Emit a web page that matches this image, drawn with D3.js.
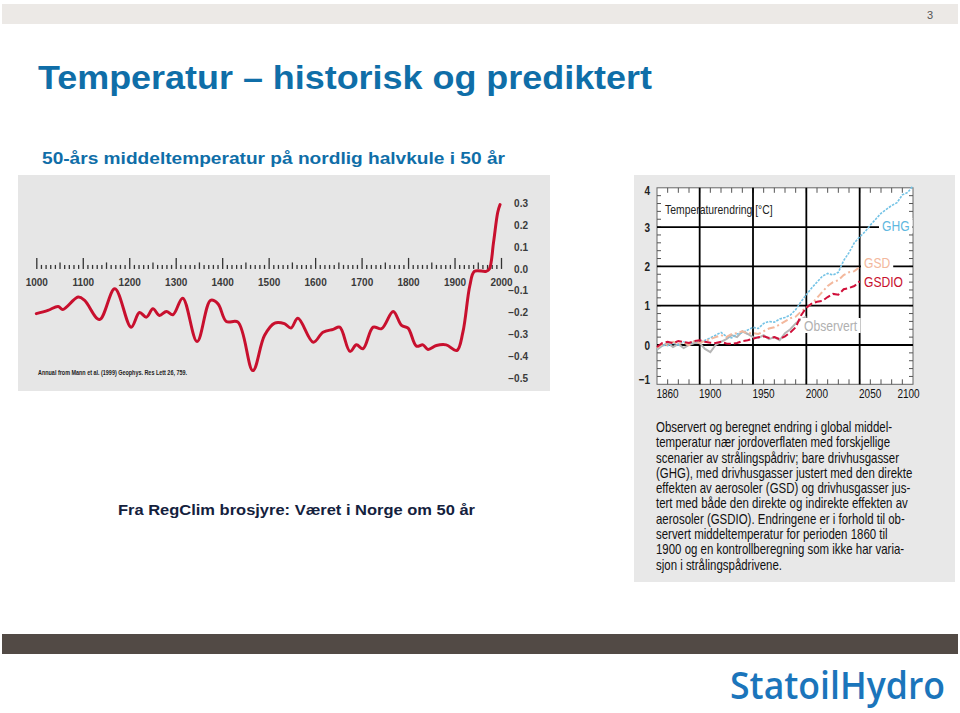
<!DOCTYPE html>
<html><head><meta charset="utf-8">
<script src="https://cdn.jsdelivr.net/npm/d3@7"></script>
<style>body{margin:0;background:#fff;} svg{display:block;}</style>
</head><body>
<svg id="c" width="960" height="713"></svg>
<script>
// ---------- DATA ----------
const histYears = [1000,1025,1047,1057,1090,1104,1136,1169,1204,1222,1237,1251,1265,1280,1294,1315,1346,1375,1391,1409,1434,1466,1491,1513,1534,1548,1563,1596,1617,1639,1653,1675,1689,1703,1725,1743,1768,1786,1800,1818,1832,1843,1861,1882,1905,1918,1933,1943,1968,1975,1984,1993,1998];
const histValues = [-0.205,-0.19,-0.172,-0.186,-0.129,-0.144,-0.232,-0.091,-0.267,-0.2,-0.221,-0.183,-0.213,-0.195,-0.21,-0.134,-0.333,-0.144,-0.16,-0.241,-0.244,-0.466,-0.305,-0.248,-0.251,-0.271,-0.226,-0.336,-0.29,-0.277,-0.267,-0.378,-0.348,-0.366,-0.267,-0.274,-0.195,-0.259,-0.271,-0.354,-0.348,-0.369,-0.351,-0.348,-0.374,-0.29,-0.076,-0.011,-0.011,0.0,0.123,0.26,0.295];
const histXTicks = [1000,1100,1200,1300,1400,1500,1600,1700,1800,1900,2000];
const histYTicks = [0.3,0.2,0.1,0.0,-0.1,-0.2,-0.3,-0.4,-0.5];

const projYears = [1860,1865,1870,1875,1880,1885,1890,1895,1900,1905,1910,1915,1920,1925,1930,1935,1940,1945,1950,1955,1960,1965,1970,1975,1980,1985,1990,1995,2000,2005,2010,2015,2020,2025,2030,2035,2040,2045,2050,2055,2060,2065,2070,2075,2080,2085,2090,2095,2100];
const ghg = [-0.1,0.0,-0.02,0.05,0.0,0.08,0.02,0.1,0.08,0.12,0.18,0.25,0.32,0.22,0.18,0.28,0.32,0.38,0.45,0.42,0.55,0.6,0.58,0.66,0.7,0.76,0.9,1.1,1.28,1.45,1.6,1.75,1.82,1.78,1.85,2.15,2.35,2.6,2.75,2.88,3.05,3.2,3.35,3.45,3.55,3.62,3.82,3.88,4.05];
const gsd = [-0.08,0.02,0.0,0.08,0.03,0.06,0.0,0.1,0.06,0.1,0.15,0.2,0.25,0.2,0.28,0.3,0.35,0.3,0.3,0.28,0.35,0.42,0.45,0.52,0.6,0.68,0.72,0.85,0.95,1.05,1.2,1.35,1.5,1.6,1.65,1.78,1.85,1.88,1.98];
const gsdio = [-0.05,0.05,0.08,0.05,0.1,0.08,0.05,0.1,0.12,0.08,0.06,0.05,0.08,0.04,0.03,0.05,0.1,0.12,0.16,0.2,0.22,0.18,0.2,0.15,0.22,0.32,0.45,0.75,0.95,1.05,1.1,1.12,1.22,1.3,1.28,1.42,1.45,1.5,1.62];
const observed = [-0.12,-0.02,0.05,-0.05,0.02,-0.08,0.0,0.05,0.05,-0.1,-0.18,0.0,0.08,0.15,0.25,0.2,0.35,0.28,0.2,0.18,0.25,0.15,0.2,0.12,0.3,0.4,0.55,0.65,0.72];
const projXTicks = [1860,1900,1950,2000,2050,2100];
const projYTicks = [-1,0,1,2,3,4];
const projGrid = [0,1,2,3];
const projVGrid = [1900,1950,2000,2050];

const captionLines = [
 "Observert og beregnet endring i global middel-",
 "temperatur nær jordoverflaten med forskjellige",
 "scenarier av strålingspådriv; bare drivhusgasser",
 "(GHG), med drivhusgasser justert med den direkte",
 "effekten av aerosoler (GSD) og drivhusgasser jus-",
 "tert med både den direkte og indirekte effekten av",
 "aerosoler (GSDIO). Endringene er i forhold til ob-",
 "servert middeltemperatur for perioden 1860 til",
 "1900 og en kontrollberegning som ikke har varia-",
 "sjon i strålingspådrivene."
];

// ---------- PAGE ----------
const svg = d3.select("#c");
const SANS = "'Liberation Sans', Arial, Helvetica, sans-serif";
const BLUE = "#0f6ea8";
// horizontally condense text (imitates a condensed typeface)
function condense(sel, f){
  sel.each(function(){
    const w = this.getComputedTextLength();
    d3.select(this).attr("textLength", w*f).attr("lengthAdjust","spacingAndGlyphs");
  });
  return sel;
}

svg.append("rect").attr("x",2).attr("y",4).attr("width",956).attr("height",20).attr("fill","#ece9e6");
svg.append("text").attr("x",930).attr("y",19).attr("text-anchor","middle").attr("font-family",SANS).attr("font-size",11).attr("fill","#555").text("3");

svg.append("text").attr("x",38).attr("y",89).attr("font-family",SANS).attr("font-weight","bold").attr("font-size",34).attr("fill",BLUE)
  .attr("textLength",614).attr("lengthAdjust","spacingAndGlyphs").text("Temperatur – historisk og prediktert");
svg.append("text").attr("x",42).attr("y",164).attr("font-family",SANS).attr("font-weight","bold").attr("font-size",17).attr("fill",BLUE)
  .attr("textLength",463).attr("lengthAdjust","spacingAndGlyphs").text("50-års middeltemperatur på nordlig halvkule i 50 år");

svg.append("text").attr("x",118).attr("y",515).attr("font-family",SANS).attr("font-weight","bold").attr("font-size",15).attr("fill","#14213d")
  .attr("textLength",357).attr("lengthAdjust","spacingAndGlyphs").text("Fra RegClim brosjyre: Været i Norge om 50 år");

svg.append("rect").attr("x",2).attr("y",634).attr("width",956).attr("height",20).attr("fill","#524a45");
svg.append("text").attr("x",730).attr("y",699).attr("font-family","'Open Sans', Lato, sans-serif").attr("font-weight",600).attr("font-size",38).attr("fill","#1b75bb")
  .attr("textLength",215).attr("lengthAdjust","spacingAndGlyphs").text("StatoilHydro");

// ---------- LEFT CHART ----------
const L = svg.append("g");
L.append("rect").attr("x",18).attr("y",175).attr("width",532).attr("height",216).attr("fill","#e6e6e6");
const xL = d3.scaleLinear().domain([1000,2000]).range([36.3,501]);
const yL = d3.scaleLinear().domain([-0.5,0.3]).range([378,203.5]);
const base = yL(0);

function tickAxis(vals, size){
  const g = L.append("g").attr("transform",`translate(0,${base})`)
    .call(d3.axisTop(xL).tickValues(vals).tickSize(size).tickFormat(""));
  g.select(".domain").remove();
  g.selectAll("line").attr("stroke","#333").attr("stroke-width",1.3);
}
tickAxis(d3.range(1000,2001,10).filter(v=>v%50!==0), 4);
tickAxis(d3.range(1050,2001,100), 6.5);
tickAxis(histXTicks, 11);

const gxL = L.append("g").attr("transform",`translate(0,${base+14})`)
  .call(d3.axisBottom(xL).tickValues(histXTicks).tickSize(0).tickFormat(d3.format("d")));
gxL.select(".domain").remove();
gxL.selectAll("text").attr("font-family",SANS).attr("font-weight","bold").attr("font-size",10).attr("fill","#3a3a3a").attr("dy","0");

const gyL = L.append("g").attr("transform",`translate(528,0)`)
  .call(d3.axisLeft(yL).tickValues(histYTicks).tickSize(0).tickPadding(0).tickFormat(d3.format(".1f")));
gyL.select(".domain").remove();
gyL.selectAll("text").attr("font-family",SANS).attr("font-weight","bold").attr("font-size",10).attr("fill","#3a3a3a");

L.append("path").datum(histValues)
  .attr("d", d3.line().x((d,i)=>xL(histYears[i])).y(d=>yL(d)).curve(d3.curveCatmullRom.alpha(0.5)))
  .attr("fill","none").attr("stroke","#c8102e").attr("stroke-width",3).attr("stroke-linejoin","round").attr("stroke-linecap","round");

L.append("text").attr("x",38).attr("y",375).attr("font-family",SANS).attr("font-weight","bold").attr("font-size",6.5).attr("fill","#222")
  .attr("textLength",149).attr("lengthAdjust","spacingAndGlyphs").text("Annual from Mann et al. (1999) Geophys. Res Lett 26, 759.");

// ---------- RIGHT CHART ----------
const R = svg.append("g");
R.append("rect").attr("x",634).attr("y",175).attr("width",321).attr("height",407).attr("fill","#e8e8e8");
const xR = d3.scaleLinear().domain([1860,2100]).range([657,913]);
const yR = d3.scaleLinear().domain([-1,4]).range([384.3,187.8]);
R.append("rect").attr("x",xR(1860)).attr("y",yR(4)).attr("width",xR(2100)-xR(1860)).attr("height",yR(-1)-yR(4))
  .attr("fill","#fff").attr("stroke","#666").attr("stroke-width",1);

// minor ticks
const tickG = R.append("g").attr("stroke","#555").attr("stroke-width",1);
d3.range(1870,2100,10).forEach(v=>{
  tickG.append("line").attr("x1",xR(v)).attr("x2",xR(v)).attr("y1",yR(4)).attr("y2",yR(4)+5);
  tickG.append("line").attr("x1",xR(v)).attr("x2",xR(v)).attr("y1",yR(-1)).attr("y2",yR(-1)-5);
});
d3.range(-0.8,4,0.2).forEach(v=>{
  tickG.append("line").attr("x1",xR(1860)).attr("x2",xR(1860)+4).attr("y1",yR(v)).attr("y2",yR(v));
  tickG.append("line").attr("x1",xR(2100)).attr("x2",xR(2100)-4).attr("y1",yR(v)).attr("y2",yR(v));
});

// gridlines
const grid = R.append("g").attr("stroke","#000").attr("stroke-width",1.8);
projGrid.forEach(v=>grid.append("line").attr("x1",xR(1860)).attr("x2",xR(2100)).attr("y1",yR(v)).attr("y2",yR(v)));
projVGrid.forEach(v=>grid.append("line").attr("x1",xR(v)).attr("x2",xR(v)).attr("y1",yR(4)).attr("y2",yR(-1)));

// axes labels
const gyR = R.append("g").attr("transform",`translate(650,0)`)
  .call(d3.axisLeft(yR).tickValues(projYTicks).tickSize(0).tickPadding(0).tickFormat(d3.format("d")));
gyR.select(".domain").remove();
gyR.selectAll("text").attr("font-family",SANS).attr("font-weight","bold").attr("font-size",12.5).attr("fill","#222")
  .attr("dy",(d)=> d===-1 ? "-0.1em" : (d===4 ? "0.55em":"0.32em"));
condense(gyR.selectAll("text"),0.8);

const gxR = R.append("g").attr("transform",`translate(0,${yR(-1)+14})`)
  .call(d3.axisBottom(xR).tickValues(projXTicks).tickSize(0).tickPadding(0).tickFormat(d3.format("d")));
gxR.select(".domain").remove();
gxR.selectAll("text").attr("font-family",SANS).attr("font-size",12.5).attr("fill","#111")
  .attr("dy","0").attr("dx",(d)=> d===2100 ? -5 : 10);
condense(gxR.selectAll("text"),0.8);

// series
const lineR = ()=> d3.line().x((d,i)=>xR(projYears[i])).y(d=>yR(d)).curve(d3.curveLinear);
R.append("path").datum(observed).attr("d",lineR()).attr("fill","none").attr("stroke","#b5b5b5").attr("stroke-width",2);
R.append("path").datum(ghg).attr("d",lineR()).attr("fill","none").attr("stroke","#74c3e6").attr("stroke-width",1.6).attr("stroke-dasharray","2.5,1.2");
R.append("path").datum(gsd).attr("d",lineR()).attr("fill","none").attr("stroke","#f3b89d").attr("stroke-width",2).attr("stroke-dasharray","7,3,2,3");
R.append("path").datum(gsdio).attr("d",lineR()).attr("fill","none").attr("stroke","#d0103a").attr("stroke-width",2).attr("stroke-dasharray","7,3");

// labels with white backdrop
function label(txt, x, y, color, size, bg, f){
  const g = R.append("g");
  const t = g.append("text").attr("x",x).attr("y",y).attr("font-family",SANS).attr("font-size",size).attr("fill",color).text(txt);
  condense(t, f);
  if(bg){
    const b = t.node().getBBox();
    g.insert("rect","text").attr("x",b.x-3).attr("y",b.y+1).attr("width",b.width+6).attr("height",b.height-2).attr("fill","#fff");
  }
  return t;
}
label("Temperaturendring [°C]", 665, 214, "#222", 13.5, false, 0.77);
label("GHG", 882, 231, "#5fb8e0", 15.5, true, 0.78);
label("GSD", 864, 268, "#f3b89d", 15.5, true, 0.78);
label("GSDIO", 864, 287, "#c8102e", 15.5, false, 0.78);
label("Observert", 804, 331, "#b0b0b0", 15.5, true, 0.78);

// caption (condensed with a horizontal scale so its box stays inside the panel)
const capG = R.append("g").attr("transform","translate(656,0) scale(0.83,1)");
captionLines.forEach((s,i)=>{
  capG.append("text").attr("x",0).attr("y",432+i*15.3).attr("font-family",SANS).attr("font-size",13.8).attr("fill","#111").text(s);
});
</script>
</body></html>
